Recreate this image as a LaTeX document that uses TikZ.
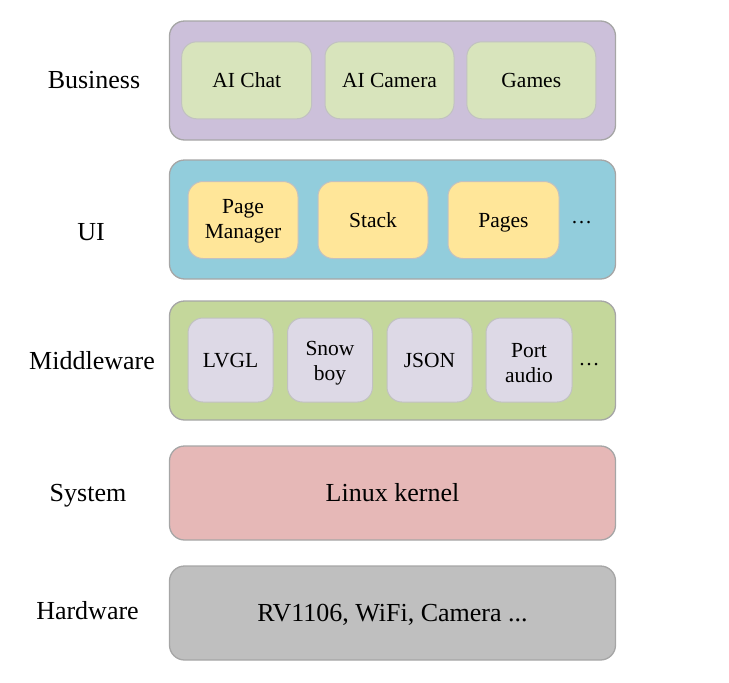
\documentclass[tikz,border=0pt]{standalone}
\usepackage{fontspec}
\setmainfont{Liberation Serif}
\definecolor{edge}{HTML}{A6A6A6}
\definecolor{bizout}{HTML}{CCC0DA}
\definecolor{bizin}{HTML}{D8E4BC}
\definecolor{uiout}{HTML}{92CDDC}
\definecolor{uiin}{HTML}{FFE699}
\definecolor{midout}{HTML}{C4D79B}
\definecolor{midin}{HTML}{DDD9E6}
\definecolor{sysfill}{HTML}{E6B8B7}
\definecolor{hwfill}{HTML}{BFBFBF}
\begin{document}
\begin{tikzpicture}[x=1pt,y=-1pt,
  layer/.style={draw=edge, line width=1.3pt, rounded corners=15pt, minimum width=446pt, inner sep=0pt},
  tall/.style={layer, minimum height=119pt},
  flat/.style={layer, minimum height=94pt, font=\fontsize{26}{30}\selectfont, text height=17.4pt, text depth=0pt},
  comp/.style={draw=edge!70, line width=1pt, rounded corners=15pt, inner sep=0pt, align=center,
    font=\fontsize{21.5}{25.5}\selectfont},
  one/.style={text height=14.2pt, text depth=0pt},
  ctext/.style={inner sep=0pt, align=center, font=\fontsize{21.5}{25.5}\selectfont},
  lbl/.style={anchor=base, font=\fontsize{26}{30}\selectfont},
  more/.style={font=\fontsize{21}{25}\selectfont, inner sep=0pt}
]
\useasboundingbox (0,0) rectangle (729,683);

% layers
\node[tall, fill=bizout] (biz) at (392.5,80.5) {};
\node[tall, fill=uiout] (ui) at (392.5,219.5) {};
\node[tall, fill=midout] (mid) at (392.5,360.5) {};
\node[flat, fill=sysfill] (sys) at (392.5,493) {Linux kernel};
\node[flat, fill=hwfill] (hw) at (392.5,613) {RV1106, WiFi, Camera ...};

% business
\node[comp, one, fill=bizin, minimum width=130pt, minimum height=77pt] (chat) at (246.7,80.3) {AI Chat};
\node[comp, one, fill=bizin, minimum width=129pt, minimum height=77pt] (cam) at (389.5,80.3) {AI Camera};
\node[comp, one, fill=bizin, minimum width=129pt, minimum height=77pt] (games) at (531.3,80.3) {Games};

% UI
\node[comp, fill=uiin, minimum width=110pt, minimum height=77pt] (pm) at (243,220) {};
\node[ctext] (pmt) at ([yshift=-1.3pt]pm.center) {Page\\Manager};
\node[comp, one, fill=uiin, minimum width=110pt, minimum height=77pt] (stack) at (373,220) {Stack};
\node[comp, one, fill=uiin, minimum width=111pt, minimum height=77pt] (pages) at (503.5,220) {Pages};
\node[more] (uidots) at (581.5,223) {…};

% middleware
\node[comp, one, fill=midin, minimum width=85pt, minimum height=84pt] (lvgl) at (230.5,360) {LVGL};
\node[comp, fill=midin, minimum width=85pt, minimum height=84pt] (snow) at (330,360) {};
\node[ctext] (snowt) at ([yshift=-3pt]snow.center) {Snow\\boy};
\node[comp, one, fill=midin, minimum width=85pt, minimum height=84pt] (json) at (429.5,360) {JSON};
\node[comp, fill=midin, minimum width=86pt, minimum height=84pt] (port) at (529,360) {};
\node[ctext] (portt) at ([yshift=-3pt]port.center) {Port\\audio};
\node[more] (middots) at (589,364.5) {…};

% labels
\node[lbl] (lbiz) at (94,88.5) {Business};
\node[lbl] (lui) at (91,240.5) {UI};
\node[lbl] (lmid) at (92,369.5) {Middleware};
\node[lbl] (lsys) at (88,501.5) {System};
\node[lbl] (lhw) at (87.5,619.5) {Hardware};
\end{tikzpicture}
\end{document}
